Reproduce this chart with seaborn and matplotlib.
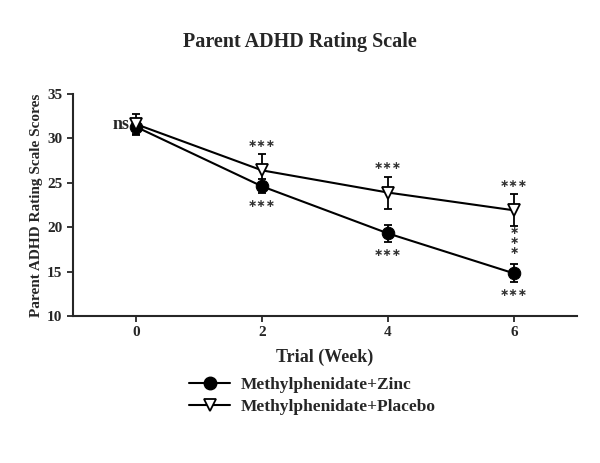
import numpy as np
import pandas as pd
import seaborn as sns
import matplotlib.pyplot as plt
from matplotlib.lines import Line2D

weeks = [0, 2, 4, 6]
zinc_mean = [31.3, 24.6, 19.3, 14.8]
zinc_err = [0.8, 0.8, 1.0, 1.0]
placebo_mean = [31.6, 26.4, 23.9, 21.9]
placebo_err = [1.2, 1.8, 1.8, 1.8]
groups = ['Methylphenidate+Zinc', 'Methylphenidate+Placebo']

df = pd.DataFrame({
    'week': weeks * 2,
    'score': zinc_mean + placebo_mean,
    'group': [groups[0]] * 4 + [groups[1]] * 4,
})

sns.set_style('ticks')
plt.rcParams['font.family'] = ['Liberation Serif', 'DejaVu Serif']
plt.rcParams['font.weight'] = 'bold'

fig = plt.figure(figsize=(6, 4.63), dpi=100)
ax = fig.add_axes([0.1217, 0.3175, 0.84, 0.4795])

# error bars first so markers sit on top
ax.errorbar(weeks, zinc_mean, yerr=zinc_err, fmt='none', ecolor='black',
            elinewidth=1.3, capsize=3, capthick=1.3, zorder=2)
ax.errorbar(weeks, placebo_mean, yerr=placebo_err, fmt='none', ecolor='black',
            elinewidth=1.3, capsize=3, capthick=1.3, zorder=2)

sns.lineplot(data=df, x='week', y='score', hue='group', style='group',
             palette=['black', 'black'], markers=['o', 'v'], dashes=False,
             linewidth=1.5, markersize=9, ax=ax, legend=False, zorder=3)
# fill colours for markers
for ln in ax.get_lines():
    if ln.get_marker() == 'o':
        ln.set_markerfacecolor('black')
        ln.set_markeredgecolor('black')
    elif ln.get_marker() == 'v':
        ln.set_markerfacecolor('white')
        ln.set_markeredgecolor('black')
        ln.set_markeredgewidth(1.3)

ax.set_xlim(-1, 7)
ax.set_ylim(10, 35)
ax.set_xticks(weeks)
ax.set_yticks([10, 15, 20, 25, 30, 35])
ax.tick_params(labelsize=11, width=1.3, length=4)
for lbl in ax.get_xticklabels() + ax.get_yticklabels():
    lbl.set_fontweight('bold')
sns.despine(ax=ax)
for s in ['left', 'bottom']:
    ax.spines[s].set_linewidth(1.5)

ax.set_xlabel('Trial (Week)', fontsize=13, fontweight='bold', labelpad=7)
ax.set_ylabel('Parent ADHD Rating Scale Scores', fontsize=11, fontweight='bold', labelpad=3)
fig.suptitle('Parent ADHD Rating Scale', fontsize=14.5, fontweight='bold', y=0.93)

# significance marks
star_kw = dict(ha='center', fontsize=8, color='#333333', fontweight='bold',
               family='DejaVu Sans')
stars = '\u2217\u2217\u2217'
for w, p, pe in zip(weeks[1:], placebo_mean[1:], placebo_err[1:]):
    ax.text(w, p + pe + 0.6, stars, va='bottom', **star_kw)
for w, z, ze in zip(weeks[1:], zinc_mean[1:], zinc_err[1:]):
    ax.text(w, z - ze - 0.6, stars, va='top', **star_kw)
ax.text(6, (zinc_mean[3] + placebo_mean[3]) / 2 + 0.1, '\u2217\n\u2217\n\u2217',
        va='center', linespacing=0.95, **star_kw)
ax.text(-0.1, 31.6, 'ns', ha='right', va='center', fontsize=13, fontweight='bold')

handles = [
    Line2D([], [], color='black', lw=1.5, marker='o', markersize=9,
           markerfacecolor='black'),
    Line2D([], [], color='black', lw=1.5, marker='v', markersize=8,
           markerfacecolor='white', markeredgewidth=1.3),
]
fig.legend(handles, groups, loc='upper left', bbox_to_anchor=(0.303, 0.2),
           frameon=False, prop={'weight': 'bold', 'size': 12.5},
           handlelength=2.4, handletextpad=0.6, labelspacing=0.3,
           borderaxespad=0)

fig.savefig('out.png', dpi=100)
